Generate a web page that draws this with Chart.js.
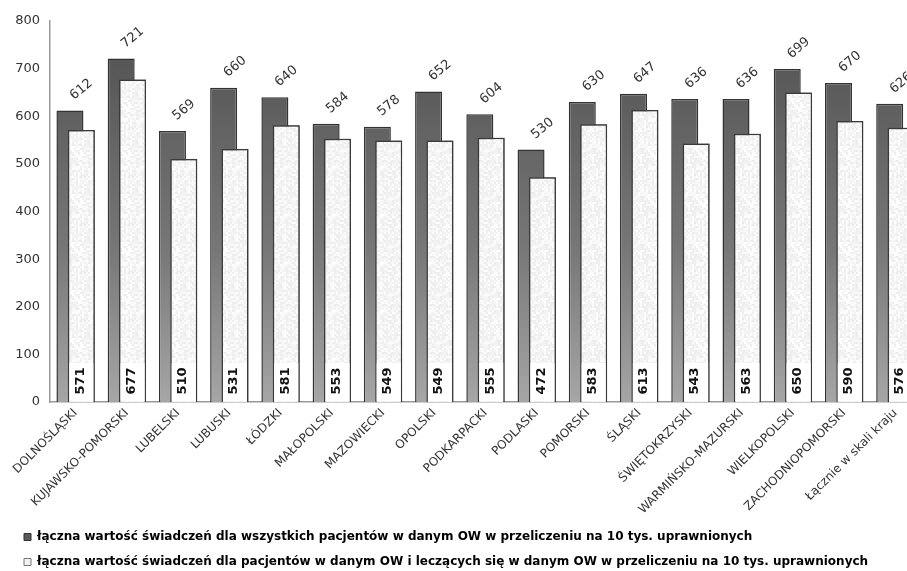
<!DOCTYPE html>
<html lang="pl">
<head>
    <meta charset="UTF-8">
    <title>Wartość świadczeń w przeliczeniu na 10 tys. uprawnionych</title>
    <script src="https://cdn.jsdelivr.net/npm/chart.js"></script>
    <style>
        body { margin: 0; background: #fff; overflow: hidden; }
        #wrap { position: absolute; left: 0; top: 0; width: 921px; height: 571px; }
    </style>
</head>
<body>
    <div id="wrap"><canvas id="chart"></canvas></div>
    <script>
        // Data
        const regions = ['DOLNOŚLĄSKI', 'KUJAWSKO-POMORSKI', 'LUBELSKI', 'LUBUSKI', 'ŁÓDZKI', 'MAŁOPOLSKI',
            'MAZOWIECKI', 'OPOLSKI', 'PODKARPACKI', 'PODLASKI', 'POMORSKI', 'ŚLĄSKI', 'ŚWIĘTOKRZYSKI',
            'WARMIŃSKO-MAZURSKI', 'WIELKOPOLSKI', 'ZACHODNIOPOMORSKI', 'Łącznie w skali kraju'];
        const allPatients = [612, 721, 569, 660, 640, 584, 578, 652, 604, 530, 630, 647, 636, 636, 699, 670, 626];
        const localPatients = [571, 677, 510, 531, 581, 553, 549, 549, 555, 472, 583, 613, 543, 563, 650, 590, 576];
        const seriesNames = [
            'łączna wartość świadczeń dla wszystkich pacjentów w danym OW w przeliczeniu na 10 tys. uprawnionych',
            'łączna wartość świadczeń dla pacjentów w danym OW i leczących się w danym OW w przeliczeniu na 10 tys. uprawnionych'
        ];
        const yMax = 800;
        const yStep = 100;

        const FONT = "'DejaVu Sans', Verdana, sans-serif";

        // soft speckled fill for the light bars (2x2 blotches)
        function speckle() {
            const c = document.createElement('canvas');
            c.width = c.height = 48;
            const g = c.getContext('2d');
            let s = 11;
            for (let y = 0; y < 48; y += 2) {
                for (let x = 0; x < 48; x += 2) {
                    s = (s * 1103515245 + 12345) & 0x7fffffff;
                    const v = 236 + ((s >> 16) % 20);
                    g.fillStyle = 'rgb(' + v + ',' + v + ',' + v + ')';
                    g.fillRect(x, y, 2, 2);
                }
            }
            return g.createPattern(c, 'repeat');
        }
        const lightFill = speckle();

        function darkFill(context) {
            const area = context.chart.chartArea;
            if (!area) return '#666';
            const g = context.chart.ctx.createLinearGradient(0, area.top, 0, area.bottom);
            g.addColorStop(0, '#505050');
            g.addColorStop(0.6, '#777');
            g.addColorStop(1, '#a6a6a6');
            return g;
        }

        // light bars go in front of the dark ones, plus the value labels
        const valueLabels = {
            id: 'valueLabels',
            afterDatasetsDraw(chart) {
                const ctx = chart.ctx;
                const dark = chart.getDatasetMeta(0);
                const light = chart.getDatasetMeta(1);
                light.controller.draw();

                ctx.save();
                ctx.fillStyle = '#333';
                ctx.font = '13px ' + FONT;
                ctx.textAlign = 'left';
                ctx.textBaseline = 'middle';
                dark.data.forEach((bar, i) => {
                    ctx.save();
                    ctx.translate(bar.x + 2, bar.y - 13);
                    ctx.rotate(-40 * Math.PI / 180);
                    ctx.fillText(allPatients[i], 0, 0);
                    ctx.restore();
                });

                ctx.font = 'bold 13px ' + FONT;
                ctx.textAlign = 'center';
                light.data.forEach((bar, i) => {
                    const p = bar.getProps(['x', 'base', 'width'], true);
                    ctx.fillStyle = '#fff';
                    ctx.fillRect(p.x - p.width / 2 + 1.5, p.base - 39, p.width - 3, 38);
                    ctx.save();
                    ctx.translate(p.x - 1, p.base - 21);
                    ctx.rotate(-Math.PI / 2);
                    ctx.fillStyle = '#111';
                    ctx.fillText(localPatients[i], 0, 0);
                    ctx.restore();
                });
                ctx.restore();
            }
        };

        new Chart(document.getElementById('chart'), {
            type: 'bar',
            data: {
                labels: regions,
                datasets: [{
                    label: seriesNames[0],
                    data: allPatients,
                    backgroundColor: darkFill,
                    borderColor: '#333',
                    borderWidth: 1.5,
                    categoryPercentage: 0.443,
                    barPercentage: 2.38
                }, {
                    label: seriesNames[1],
                    data: localPatients,
                    backgroundColor: lightFill,
                    borderColor: '#3a3a3a',
                    borderWidth: 1.5,
                    categoryPercentage: 0.443,
                    barPercentage: 2.38
                }]
            },
            options: {
                responsive: true,
                maintainAspectRatio: false,
                animation: false,
                layout: { padding: { top: 21, left: 11, right: 0, bottom: 0 } },
                scales: {
                    x: {
                        grid: { display: false, drawTicks: false },
                        border: { display: true, color: '#999', width: 1.5 },
                        ticks: {
                            autoSkip: false,
                            minRotation: 45,
                            maxRotation: 45,
                            padding: 4,
                            color: '#333',
                            font: { family: FONT, size: 12 }
                        },
                        afterFit(scale) { scale.height = 116; }
                    },
                    y: {
                        min: 0,
                        max: yMax,
                        grid: { display: false, drawTicks: false },
                        border: { display: true, color: '#999', width: 1.5 },
                        ticks: {
                            stepSize: yStep,
                            padding: 10,
                            color: '#333',
                            font: { family: FONT, size: 13 }
                        },
                        afterFit(scale) { scale.width = 39; }
                    }
                },
                plugins: {
                    legend: {
                        position: 'bottom',
                        align: 'start',
                        maxHeight: 53,
                        labels: {
                            boxWidth: 7,
                            boxHeight: 7,
                            padding: 13,
                            color: '#222',
                            font: { family: FONT, size: 12, weight: 'bold' },
                            generateLabels(chart) {
                                return chart.data.datasets.map((ds, i) => ({
                                    text: ds.label,
                                    fillStyle: i === 0 ? '#5a5a5a' : '#f2f2f2',
                                    strokeStyle: i === 0 ? '#333' : '#777',
                                    lineWidth: 1,
                                    datasetIndex: i
                                }));
                            }
                        }
                    },
                    tooltip: { enabled: false }
                }
            },
            plugins: [valueLabels]
        });
    </script>
</body>
</html>
